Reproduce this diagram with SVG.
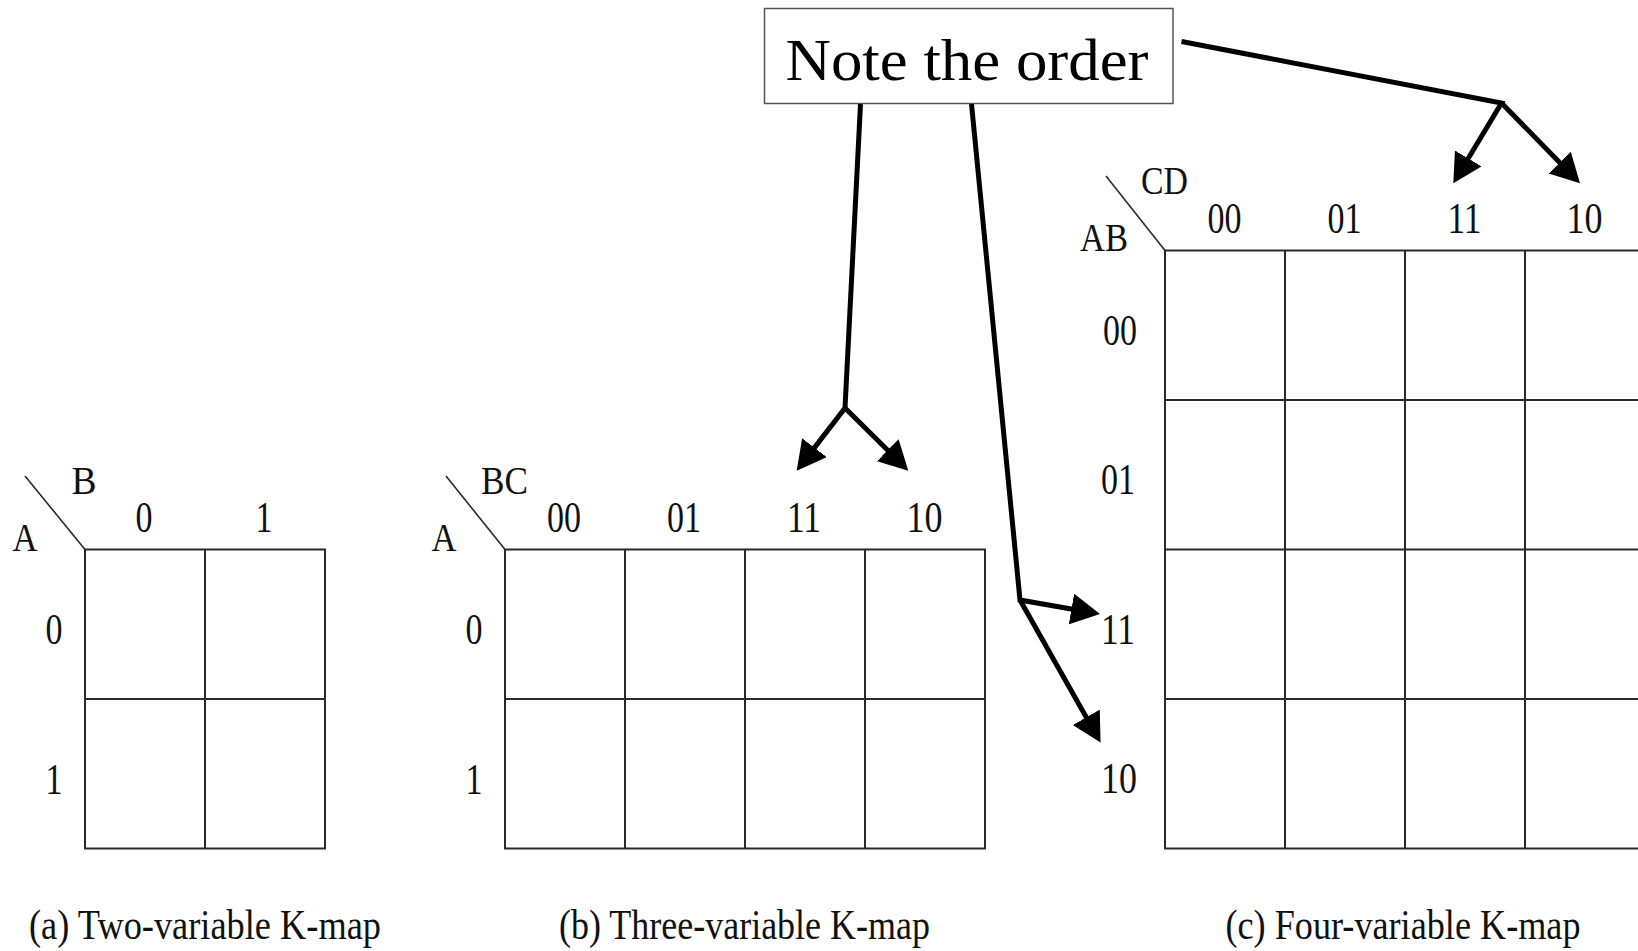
<svg xmlns="http://www.w3.org/2000/svg" width="1638" height="951" viewBox="0 0 1638 951">
<style>
.g{fill:none;stroke:#2a2a2a;stroke-width:2}
.d{fill:none;stroke:#2a2a2a;stroke-width:1.6}
.t{font-family:"Liberation Serif","Times New Roman",serif;font-size:45px;fill:#111;text-anchor:middle}
.l{font-family:"Liberation Serif","Times New Roman",serif;font-size:39px;fill:#111;text-anchor:middle}
.cap{font-family:"Liberation Serif","Times New Roman",serif;font-size:42px;fill:#111;text-anchor:middle}
.note{font-family:"Liberation Serif","Times New Roman",serif;font-size:60px;fill:#000;text-anchor:middle}
.a{fill:none;stroke:#000;stroke-width:5;stroke-linejoin:miter}
</style>
<defs>
<marker id="ah" markerUnits="userSpaceOnUse" markerWidth="30" markerHeight="32" refX="10" refY="15.5" orient="auto" viewBox="0 0 30 32">
<path d="M0,0 L29,15.5 L0,31 z" fill="#000"/>
</marker>
</defs>
<rect width="1638" height="951" fill="#fff"/>

<g id="kmap-a">
<rect class="g" x="85" y="549.5" width="240" height="299"/>
<line class="g" x1="205" y1="549.5" x2="205" y2="848.5"/>
<line class="g" x1="85" y1="699" x2="325" y2="699"/>
<line class="d" x1="25" y1="476" x2="85" y2="549.5"/>
<text class="l" x="84" y="494" textLength="25" lengthAdjust="spacingAndGlyphs">B</text>
<text class="l" x="25" y="551" textLength="25" lengthAdjust="spacingAndGlyphs">A</text>
<text class="t" x="144" y="532" textLength="17" lengthAdjust="spacingAndGlyphs">0</text>
<text class="t" x="264" y="532" textLength="17" lengthAdjust="spacingAndGlyphs">1</text>
<text class="t" x="54" y="644" textLength="17" lengthAdjust="spacingAndGlyphs">0</text>
<text class="t" x="54" y="794" textLength="17" lengthAdjust="spacingAndGlyphs">1</text>
<text class="cap" x="205" y="939" textLength="352" lengthAdjust="spacingAndGlyphs">(a) Two-variable K-map</text>
</g>

<g id="kmap-b">
<rect class="g" x="505" y="549.5" width="480" height="299"/>
<line class="g" x1="625" y1="549.5" x2="625" y2="848.5"/>
<line class="g" x1="745" y1="549.5" x2="745" y2="848.5"/>
<line class="g" x1="865" y1="549.5" x2="865" y2="848.5"/>
<line class="g" x1="505" y1="699" x2="985" y2="699"/>
<line class="d" x1="446" y1="476" x2="505" y2="549.5"/>
<text class="l" x="504.5" y="494" textLength="47" lengthAdjust="spacingAndGlyphs">BC</text>
<text class="l" x="444" y="551" textLength="25" lengthAdjust="spacingAndGlyphs">A</text>
<text class="t" x="564" y="532" textLength="34" lengthAdjust="spacingAndGlyphs">00</text>
<text class="t" x="684" y="532" textLength="34" lengthAdjust="spacingAndGlyphs">01</text>
<text class="t" x="804" y="532" textLength="34" lengthAdjust="spacingAndGlyphs">11</text>
<text class="t" x="924.5" y="532" textLength="36" lengthAdjust="spacingAndGlyphs">10</text>
<text class="t" x="474" y="644" textLength="17" lengthAdjust="spacingAndGlyphs">0</text>
<text class="t" x="474" y="794" textLength="17" lengthAdjust="spacingAndGlyphs">1</text>
<text class="cap" x="744.5" y="939" textLength="371" lengthAdjust="spacingAndGlyphs">(b) Three-variable K-map</text>
</g>

<g id="kmap-c">
<rect class="g" x="1165" y="250.5" width="480" height="598"/>
<line class="g" x1="1285" y1="250.5" x2="1285" y2="848.5"/>
<line class="g" x1="1405" y1="250.5" x2="1405" y2="848.5"/>
<line class="g" x1="1525" y1="250.5" x2="1525" y2="848.5"/>
<line class="g" x1="1165" y1="400" x2="1645" y2="400"/>
<line class="g" x1="1165" y1="549.5" x2="1645" y2="549.5"/>
<line class="g" x1="1165" y1="699" x2="1645" y2="699"/>
<line class="d" x1="1106" y1="176" x2="1165" y2="250.5"/>
<text class="l" x="1164.5" y="193.5" textLength="47" lengthAdjust="spacingAndGlyphs">CD</text>
<text class="l" x="1104" y="250.5" textLength="48" lengthAdjust="spacingAndGlyphs">AB</text>
<text class="t" x="1224.5" y="233" textLength="34" lengthAdjust="spacingAndGlyphs">00</text>
<text class="t" x="1344.5" y="233" textLength="34" lengthAdjust="spacingAndGlyphs">01</text>
<text class="t" x="1464.5" y="233" textLength="34" lengthAdjust="spacingAndGlyphs">11</text>
<text class="t" x="1584.5" y="233" textLength="36" lengthAdjust="spacingAndGlyphs">10</text>
<text class="t" x="1120" y="345" textLength="34" lengthAdjust="spacingAndGlyphs">00</text>
<text class="t" x="1118" y="494" textLength="34" lengthAdjust="spacingAndGlyphs">01</text>
<text class="t" x="1118" y="643.5" textLength="34" lengthAdjust="spacingAndGlyphs">11</text>
<text class="t" x="1119" y="793" textLength="36" lengthAdjust="spacingAndGlyphs">10</text>
<text class="cap" x="1403" y="939" textLength="355" lengthAdjust="spacingAndGlyphs">(c) Four-variable K-map</text>
</g>

<g id="note">
<rect x="764.5" y="8.5" width="408.5" height="95" fill="#fff" stroke="#555" stroke-width="1.5"/>
<text class="note" x="967" y="80" textLength="363" lengthAdjust="spacingAndGlyphs">Note the order</text>
</g>

<g id="connectors">
<path class="a" d="M860.5,104 L845,408 L808.3,455.6" marker-end="url(#ah)"/>
<path class="a" d="M845,408 L894.8,457.3" marker-end="url(#ah)"/>
<path class="a" d="M971.5,104 L1020,600 L1081.3,610.7" marker-end="url(#ah)"/>
<path class="a" d="M1020,600 L1091.2,726" marker-end="url(#ah)"/>
<path class="a" d="M1181.5,41.5 L1501.5,103 L1463.1,167" marker-end="url(#ah)"/>
<path class="a" d="M1501.5,103 L1566.7,169.7" marker-end="url(#ah)"/>
</g>
</svg>
